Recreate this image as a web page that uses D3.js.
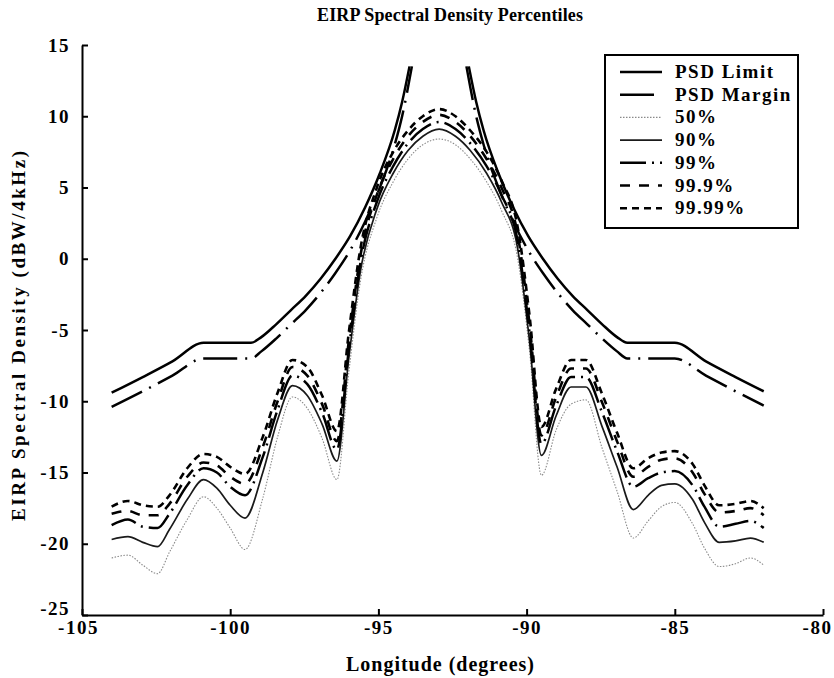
<!DOCTYPE html>
<meta charset="utf-8">
<style>
body { margin: 0; background: #fff; }
svg { font-family: 'Liberation Serif', 'Times New Roman', serif; font-weight: bold; }
.axis path, .axis line { stroke: #000; stroke-width: 2; }
.axis text { font-size: 19px; font-family: 'Liberation Serif', serif; font-weight: bold; fill: #000; letter-spacing: 1.5px; }
.series { fill: none; }
.lab { fill: #000; }
.leg { font-size: 19px; fill: #000; letter-spacing: 1.5px; }
</style>
<body>
<div id="chart"></div>
<script src="https://cdn.jsdelivr.net/npm/d3@7"></script>
<script>
// longitude grid shared by the percentile curves (degrees)
var lonP = [-104.0, -103.45, -102.95, -102.45, -102.05, -101.45, -100.9, -100.45, -100.0, -99.5,
            -98.9, -98.4, -97.9, -97.4, -96.9, -96.4, -96.0, -95.6, -95.05, -94.5, -94.0, -93.5,
            -92.95, -92.4, -91.9, -91.35, -90.85, -90.3, -89.9, -89.5, -89.0, -88.5, -88.0,
            -87.45, -86.95, -86.4, -85.9, -85.45, -85.0, -84.4, -84.0, -83.5, -82.95, -82.45, -82.0];

var p50 = [-21.0, -20.8, -21.5, -22.1, -20.6, -18.3, -16.7, -17.5, -18.9, -20.4,
           -16.8, -12.5, -9.7, -10.5, -12.6, -15.5, -8.0, -1.5, 2.9, 5.4, 7.0, 8.0,
           8.4, 8.0, 7.0, 5.4, 3.4, 0.0, -6.5, -15.2, -12.0, -10.2, -9.9,
           -13.3, -16.3, -19.6, -18.4, -17.4, -17.1, -18.6, -20.3, -21.6, -21.4, -21.0, -21.5];

var p90 = [-19.7, -19.5, -19.9, -20.2, -19.0, -16.9, -15.5, -16.1, -17.3, -18.2,
           -15.0, -11.3, -8.9, -9.6, -11.6, -14.2, -7.0, -0.8, 3.5, 6.0, 7.6, 8.6,
           9.1, 8.6, 7.6, 6.0, 4.0, 0.7, -5.8, -13.8, -11.0, -9.0, -9.0,
           -11.8, -14.6, -17.6, -16.6, -15.9, -15.8, -16.9, -18.5, -19.9, -19.8, -19.6, -19.9];

var p99 = [-18.7, -18.3, -18.8, -18.9, -17.9, -15.9, -14.7, -15.0, -16.0, -16.6,
           -13.9, -10.6, -8.2, -8.8, -10.8, -13.4, -6.4, -0.2, 4.0, 6.5, 8.1, 9.1,
           9.6, 9.1, 8.1, 6.5, 4.5, 1.2, -5.2, -13.0, -10.3, -8.3, -8.3,
           -10.8, -13.5, -16.0, -15.4, -15.0, -14.9, -15.9, -17.4, -18.8, -18.6, -18.4, -18.9];

var p999 = [-17.9, -17.7, -18.0, -18.0, -17.2, -15.3, -14.3, -14.5, -15.3, -15.8,
            -13.2, -10.0, -7.6, -8.2, -10.2, -12.8, -5.8, 0.3, 4.5, 7.0, 8.6, 9.6,
            10.1, 9.6, 8.6, 7.0, 5.0, 1.7, -4.6, -12.4, -9.7, -7.7, -7.7,
            -10.1, -12.8, -15.3, -14.6, -14.1, -14.0, -15.0, -16.5, -17.8, -17.7, -17.5, -18.0];

var p9999 = [-17.4, -17.0, -17.3, -17.4, -16.6, -14.7, -13.7, -13.9, -14.6, -15.1,
             -12.5, -9.4, -7.1, -7.6, -9.6, -12.1, -5.2, 0.8, 5.0, 7.5, 9.0, 10.0,
             10.5, 10.0, 9.0, 7.5, 5.5, 2.2, -4.0, -11.8, -9.1, -7.1, -7.1,
             -9.5, -12.2, -14.7, -14.0, -13.6, -13.5, -14.4, -15.9, -17.3, -17.2, -17.0, -17.5];

// PSD limit, west and east branches
var limLonW = [-104.0, -102.95, -101.95, -100.9, -99.3, -98.95, -98.45, -97.95, -97.45,
               -96.95, -96.45, -95.95, -95.45, -94.95, -94.45, -94.2, -93.95];
var limValW = [-9.4, -8.3, -7.2, -5.9, -5.9, -5.5, -4.6, -3.6, -2.6,
               -1.4, 0.0, 1.6, 3.6, 6.0, 9.0, 11.0, 13.5];
var limLonE = [-91.95, -91.7, -91.45, -90.95, -90.45, -89.95, -89.45, -88.95, -88.45,
               -87.95, -87.45, -86.95, -86.6, -85.0, -83.95, -82.95, -82.0];
var limValE = [13.5, 11.0, 9.0, 6.0, 3.6, 1.6, 0.0, -1.4, -2.6,
               -3.6, -4.6, -5.5, -5.9, -5.9, -7.2, -8.3, -9.3];

// PSD margin, west and east branches
var marLonW = [-104.0, -102.95, -101.95, -100.9, -99.3, -98.95, -98.45, -97.95, -97.45,
               -96.95, -96.45, -95.95, -95.45, -94.95, -94.45, -94.2, -93.87];
var marValW = [-10.4, -9.3, -8.2, -7.0, -7.0, -6.5, -5.6, -4.6, -3.6,
               -2.4, -1.0, 0.6, 2.6, 5.0, 8.0, 10.0, 13.5];
var marLonE = [-92.03, -91.7, -91.45, -90.95, -90.45, -89.95, -89.45, -88.95, -88.45,
               -87.95, -87.45, -86.95, -86.6, -85.0, -83.95, -82.95, -82.0];
var marValE = [13.5, 10.0, 8.0, 5.0, 2.6, 0.6, -1.0, -2.4, -3.6,
               -4.6, -5.6, -6.5, -7.0, -7.0, -8.2, -9.3, -10.3];

var xTicks = [-105, -100, -95, -90, -85, -80];
var yTicks = [-25, -20, -15, -10, -5, 0, 5, 10, 15];
var legendNames = ['PSD Limit', 'PSD Margin', '50%', '90%', '99%', '99.9%', '99.99%'];

var styles = [
  {stroke: '#000', width: 2.5, dash: null},
  {stroke: '#000', width: 2.5, dash: '34,8,2,8'},
  {stroke: '#8a8a8a', width: 1.1, dash: '1.5,1.5'},
  {stroke: '#1a1a1a', width: 1.7, dash: null},
  {stroke: '#000', width: 2.5, dash: '26,6,2,6'},
  {stroke: '#000', width: 2.6, dash: '10,9'},
  {stroke: '#000', width: 2.6, dash: '7,5'}
];

var svg = d3.select('#chart').append('svg')
  .attr('width', 834)
  .attr('height', 678);

var x = d3.scaleLinear().domain([-105, -80]).range([82, 823]);
var y = d3.scaleLinear().domain([-25, 15]).range([615, 45]);

var line = d3.line()
  .x(function(d) { return x(d[0]); })
  .y(function(d) { return y(d[1]); })
  .curve(d3.curveMonotoneX);

function pairs(lon, val) {
  return lon.map(function(v, i) { return [v, val[i]]; });
}

var series = [
  {s: 2, data: pairs(lonP, p50)},
  {s: 3, data: pairs(lonP, p90)},
  {s: 4, data: pairs(lonP, p99)},
  {s: 5, data: pairs(lonP, p999)},
  {s: 6, data: pairs(lonP, p9999)},
  {s: 1, data: pairs(marLonW, marValW)},
  {s: 1, data: pairs(marLonE, marValE)},
  {s: 0, data: pairs(limLonW, limValW)},
  {s: 0, data: pairs(limLonE, limValE)}
];

series.forEach(function(d) {
  var st = styles[d.s];
  svg.append('path')
    .datum(d.data)
    .attr('class', 'series')
    .attr('d', line)
    .attr('stroke', st.stroke)
    .attr('stroke-width', st.width)
    .attr('stroke-dasharray', st.dash);
});

// axes, ticks pointing in
var gx = svg.append('g')
  .attr('class', 'axis')
  .attr('transform', 'translate(0,615)')
  .call(d3.axisBottom(x).tickValues(xTicks).tickSize(-6).tickSizeOuter(0).tickPadding(6)
        .tickFormat(function(d) { return String(d); }));
// nudge the end labels like the original print
gx.selectAll('.tick text').filter(function(d) { return d === -80; }).attr('dx', '-6');
gx.selectAll('.tick text').filter(function(d) { return d === -105; }).attr('dx', '-4');

var gy = svg.append('g')
  .attr('class', 'axis')
  .attr('transform', 'translate(82,0)')
  .call(d3.axisLeft(y).tickValues(yTicks).tickSize(-6).tickSizeOuter(0).tickPadding(12)
        .tickFormat(function(d) { return String(d); }));
gy.selectAll('.tick text').filter(function(d) { return d === -25; }).attr('dy', '-0.05em');

// titles
svg.append('text')
  .attr('class', 'lab')
  .attr('x', 450).attr('y', 21)
  .attr('font-size', 18)
  .attr('text-anchor', 'middle')
  .attr('textLength', 266).attr('lengthAdjust', 'spacing')
  .text('EIRP Spectral Density Percentiles');

svg.append('text')
  .attr('class', 'lab')
  .attr('x', 440).attr('y', 671)
  .attr('font-size', 20)
  .attr('text-anchor', 'middle')
  .attr('textLength', 188).attr('lengthAdjust', 'spacing')
  .text('Longitude (degrees)');

svg.append('text')
  .attr('class', 'lab')
  .attr('transform', 'translate(25,336) rotate(-90)')
  .attr('font-size', 19)
  .attr('text-anchor', 'middle')
  .attr('textLength', 370).attr('lengthAdjust', 'spacing')
  .text('EIRP Spectral Density (dBW/4kHz)');

// legend
var leg = svg.append('g');
leg.append('rect')
  .attr('x', 605).attr('y', 55)
  .attr('width', 193).attr('height', 173)
  .attr('fill', '#fff')
  .attr('stroke', '#000')
  .attr('stroke-width', 2);

legendNames.forEach(function(name, i) {
  var st = styles[i];
  var ly = 72 + i * 22.7;
  leg.append('line')
    .attr('x1', 620).attr('x2', 662)
    .attr('y1', ly).attr('y2', ly)
    .attr('stroke', st.stroke)
    .attr('stroke-width', st.width)
    .attr('stroke-dasharray', st.dash);
  leg.append('text')
    .attr('class', 'leg')
    .attr('x', 675).attr('y', ly + 6)
    .text(name);
});
</script>
</body>
